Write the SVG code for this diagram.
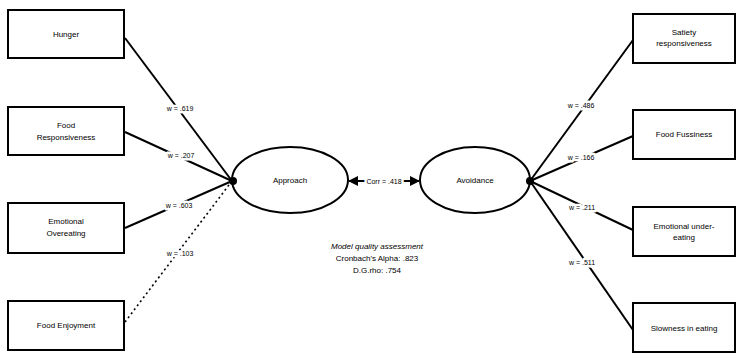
<svg xmlns="http://www.w3.org/2000/svg" width="737" height="356" viewBox="0 0 737 356">
<defs>
<style>
.box{fill:#fff;stroke:#000;stroke-width:2}
.ell{fill:#fff;stroke:#000;stroke-width:2}
.t{font-family:"Liberation Sans",Arial,sans-serif;font-size:8px;fill:#000;text-anchor:middle}
.lbl{font-family:"Liberation Sans",Arial,sans-serif;font-size:7px;fill:#000;text-anchor:middle;stroke:#fff;stroke-width:5px;paint-order:stroke;stroke-linejoin:round}
.ln{stroke:#000;stroke-width:2;fill:none}
.dot{stroke:#000;stroke-width:1.6;fill:none;stroke-dasharray:2 3}
</style>
<marker id="ah" viewBox="0 0 10 10" refX="9" refY="5" markerWidth="5" markerHeight="5" orient="auto-start-reverse">
<path d="M0,0 L10,5 L0,10 z" fill="#000"/>
</marker>
</defs>
<rect width="737" height="356" fill="#fff"/>
<g id="connectors">
<line class="ln" x1="125" y1="38" x2="232" y2="181"/>
<line class="ln" x1="125" y1="132" x2="232" y2="181"/>
<line class="ln" x1="125" y1="228" x2="232" y2="181"/>
<line class="dot" x1="125" y1="322" x2="232" y2="181"/>
<line class="ln" x1="633" y1="40" x2="530" y2="181"/>
<line class="ln" x1="633" y1="136" x2="530" y2="181"/>
<line class="ln" x1="633" y1="230" x2="530" y2="181"/>
<line class="ln" x1="633" y1="330" x2="530" y2="181"/>
<line class="ln" x1="349" y1="181" x2="419" y2="181" stroke-width="1.5" marker-start="url(#ah)" marker-end="url(#ah)"/>
<text class="lbl" x="180" y="111">w = .619</text>
<text class="lbl" x="181" y="158">w = .207</text>
<text class="lbl" x="179" y="208">w = .603</text>
<text class="lbl" x="180" y="256">w =   .103</text>
<text class="lbl" x="581" y="108">w = .486</text>
<text class="lbl" x="581" y="160">w = .166</text>
<text class="lbl" x="582" y="210">w = .211</text>
<text class="lbl" x="582" y="265">w = .511</text>
<text class="lbl" x="384" y="184">Corr = .418</text>
</g>
<g id="hunger"><rect class="box" x="8" y="10" width="116" height="48"/><text class="t" x="66" y="37">Hunger</text></g>
<g id="food-responsiveness"><rect class="box" x="8" y="107" width="116" height="48"/><text class="t" x="66" y="128">Food</text><text class="t" x="66" y="140">Responsiveness</text></g>
<g id="emotional-overeating"><rect class="box" x="8" y="203" width="116" height="50"/><text class="t" x="66" y="224">Emotional</text><text class="t" x="66" y="236">Overeating</text></g>
<g id="food-enjoyment"><rect class="box" x="8" y="301" width="116" height="49"/><text class="t" x="66" y="328">Food Enjoyment</text></g>
<g id="approach"><ellipse class="ell" cx="290" cy="180" rx="58" ry="33"/><text class="t" x="290" y="183">Approach</text><circle cx="233" cy="181" r="4" fill="#000"/></g>
<g id="avoidance"><ellipse class="ell" cx="475" cy="180" rx="55" ry="33"/><text class="t" x="475" y="183">Avoidance</text><circle cx="530" cy="181" r="4" fill="#000"/></g>
<g id="satiety-responsiveness"><rect class="box" x="633" y="14" width="102" height="49"/><text class="t" x="684" y="35">Satiety</text><text class="t" x="684" y="46">responsiveness</text></g>
<g id="food-fussiness"><rect class="box" x="633" y="110" width="102" height="49"/><text class="t" x="684" y="137">Food Fussiness</text></g>
<g id="emotional-undereating"><rect class="box" x="633" y="207" width="102" height="49"/><text class="t" x="684" y="229">Emotional under-</text><text class="t" x="684" y="240">eating</text></g>
<g id="slowness-in-eating"><rect class="box" x="633" y="303" width="102" height="49"/><text class="t" x="684" y="331">Slowness in eating</text></g>
<g id="quality">
<text class="t" x="377" y="249" font-style="italic">Model quality assessment</text>
<text class="t" x="377" y="261">Cronbach's Alpha: .823</text>
<text class="t" x="377" y="273">D.G.rho: .754</text>
</g>
</svg>
